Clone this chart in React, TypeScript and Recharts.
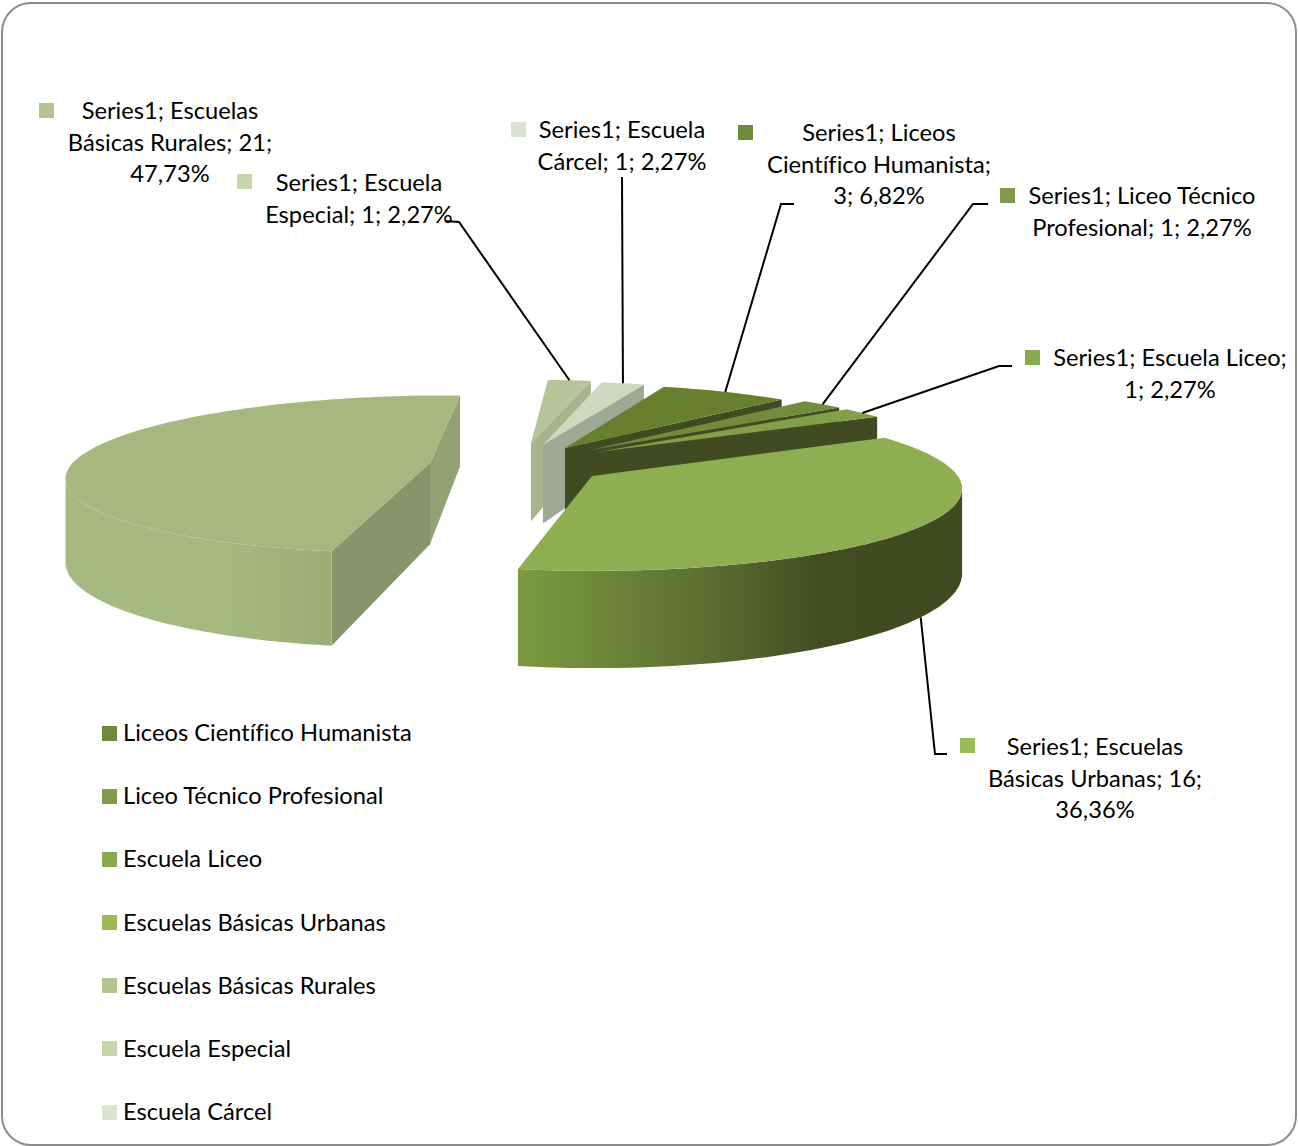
import React from 'react';
import { PieChart, Pie, Cell, Legend } from 'recharts';

// pie order runs back to front so nearer slices paint over farther ones
const CATEGORIES = [
  'Escuela Especial',
  'Escuela Cárcel',
  'Liceos Científico Humanista',
  'Liceo Técnico Profesional',
  'Escuela Liceo',
  'Escuelas Básicas Urbanas',
  'Escuelas Básicas Rurales',
];
const VALUES = [1, 1, 3, 1, 1, 16, 21];
const LEGEND_ORDER = [
  'Liceos Científico Humanista',
  'Liceo Técnico Profesional',
  'Escuela Liceo',
  'Escuelas Básicas Urbanas',
  'Escuelas Básicas Rurales',
  'Escuela Especial',
  'Escuela Cárcel',
];
const KEY_COLORS = ['#c6d6ab', '#dbe5cd', '#6f8a3d', '#7f9b4b', '#8aaa50', '#9bbb59', '#b1c78f'];
const TOP_COLORS = ['#b5c499', '#ced9bf', '#66802f', '#718c3b', '#82a04a', '#8fae52', '#a4b880'];
const WALL_COLORS = ['#a3ae8c', '#9ea894', '#414b21', '#414b21', '#414b21', '#414b21', '#87966a'];
const END_WALL_COLORS = ['#a7b48d', '#9ea894', '#414b21', '#414b21', '#414b21', '#414b21', '#92a373'];

const LABEL_LINES = [
  ['Series1; Escuela', 'Especial; 1; 2,27%'],
  ['Series1; Escuela', 'Cárcel; 1; 2,27%'],
  ['Series1; Liceos', 'Científico Humanista;', '3; 6,82%'],
  ['Series1; Liceo Técnico', 'Profesional; 1; 2,27%'],
  ['Series1; Escuela Liceo;', '1; 2,27%'],
  ['Series1; Escuelas', 'Básicas Urbanas; 16;', '36,36%'],
  ['Series1; Escuelas', 'Básicas Rurales; 21;', '47,73%'],
];

// label layout: text centre, first line y, key corner, leader elbow points
const LABEL_BOX = [
  { x: 359, y: 182, keyX: 237, keyY: 174, leader: [[445, 221], [459, 222]] },
  { x: 622, y: 129, keyX: 511, keyY: 122, leader: [[622, 177]] },
  { x: 879, y: 132, keyX: 738, keyY: 125, leader: [[794, 204], [781, 204]] },
  { x: 1142, y: 195, keyX: 1000, keyY: 188, leader: [[988, 204], [973, 204]] },
  { x: 1170, y: 357, keyX: 1025, keyY: 350, leader: [[1012, 366], [999, 366]] },
  { x: 1095, y: 746, keyX: 960, keyY: 738, leader: [[947, 754], [935, 754]] },
  { x: 170, y: 110, keyX: 39, keyY: 103, leader: [] as number[][] },
];

// exploded slice tips on screen
const TIPS = [
  [531, 443],
  [543, 445],
  [565, 448],
  [590, 450],
  [597, 452],
  [592, 476],
  [430, 463],
];

const WIDTH = 1298;
const HEIGHT = 1146;
const CX = 575;
const CY = 455;
const RX = 352;
const RY = 75;
const PERSPECTIVE = 0.14;
const DEPTH = 80;
const FONT = 'Lato, sans-serif';
const FONT_SIZE = 23.7;
const START_ANGLE = 87.8;

const RIM_STOPS: Record<number, [number, string][]> = {
  5: [[0, '#7c9a40'], [0.41, '#5c7032'], [0.69, '#414c21'], [1, '#3f4a1f']],
  6: [[0, '#a5ba80'], [0.4, '#a5ba80'], [1, '#8e9e6c']],
};

const project = (x: number, y: number, z = 0) => {
  const f = 1 / (1 - PERSPECTIVE * y);
  return [CX + RX * x * f, CY + RY * y * f + DEPTH * z * f];
};

// turn the screen position of a tip back to disc coordinates
const tipOffset = (i: number) => {
  const t = (TIPS[i][1] - CY) / RY;
  const y = t / (1 + PERSPECTIVE * t);
  const f = 1 / (1 - PERSPECTIVE * y);
  return [(TIPS[i][0] - CX) / (RX * f), y];
};

const rimPoint = (i: number, angle: number, z = 0) => {
  const [ox, oy] = tipOffset(i);
  const rad = (angle * Math.PI) / 180;
  return project(ox + Math.cos(rad), oy - Math.sin(rad), z);
};

const toPath = (pts: number[][]) =>
  pts.map((p, i) => `${i ? 'L' : 'M'}${p[0].toFixed(1)} ${p[1].toFixed(1)}`).join(' ') + ' Z';

const Slice3D = (props: any) => {
  const { startAngle, endAngle, name } = props;
  const i = CATEGORIES.indexOf(name ?? props.payload?.name);
  const [ox, oy] = tipOffset(i);
  const tip = project(ox, oy);
  const tipLow = project(ox, oy, 1);
  const steps = Math.max(2, Math.ceil(Math.abs(startAngle - endAngle) / 1.5));
  const angles = Array.from({ length: steps + 1 }, (_, k) => startAngle + ((endAngle - startAngle) * k) / steps);
  const arcTop = angles.map((a) => rimPoint(i, a));
  const arcLow = angles.map((a) => rimPoint(i, a, 1));

  // only edges running right to left on screen face the viewer
  const rimRuns: number[][][] = [];
  let run: number[][] | null = null;
  for (let k = 0; k < steps; k++) {
    if (arcTop[k + 1][0] < arcTop[k][0]) {
      if (!run) {
        run = [arcTop[k]];
        rimRuns.push(run);
      }
      run.push(arcTop[k + 1]);
    } else run = null;
  }
  const rimPaths = rimRuns.map((r) => {
    const low = r.map((p) => arcLow[arcTop.indexOf(p)]);
    return toPath([...r, ...low.reverse()]);
  });

  const startRim = arcTop[0];
  const endRim = arcTop[steps];
  const stops = RIM_STOPS[i];
  const gradId = `rim-${i}`;
  const xs = arcTop.map((p) => p[0]);

  return (
    <g>
      {stops && (
        <defs>
          <linearGradient id={gradId} gradientUnits="userSpaceOnUse" x1={Math.min(...xs)} x2={Math.max(...xs)} y1={0} y2={0}>
            {stops.map(([o, c]) => (
              <stop key={o} offset={o} stopColor={c} />
            ))}
          </linearGradient>
        </defs>
      )}
      {startRim[0] < tip[0] && <path d={toPath([tip, startRim, arcLow[0], tipLow])} fill={WALL_COLORS[i]} />}
      {tip[0] < endRim[0] && <path d={toPath([endRim, tip, tipLow, arcLow[steps]])} fill={END_WALL_COLORS[i]} />}
      {rimPaths.map((d, k) => (
        <path key={k} d={d} fill={stops ? `url(#${gradId})` : WALL_COLORS[i]} />
      ))}
      <path d={toPath([tip, ...arcTop])} fill={TOP_COLORS[i]} />
    </g>
  );
};

const SliceLabel = (props: any) => {
  const { index, midAngle } = props;
  const box = LABEL_BOX[index];
  const lines = LABEL_LINES[index];
  const name = CATEGORIES[index];
  // urbanas leader lands on the bottom edge of the rim, the rest on the top edge
  const end = rimPoint(index, midAngle, name === 'Escuelas Básicas Urbanas' ? 1 : 0);
  const pts = box.leader.length ? [...box.leader, end] : [];
  return (
    <g>
      {pts.length > 0 && (
        <polyline points={pts.map((p) => p.join(',')).join(' ')} fill="none" stroke="#000" strokeWidth={2} />
      )}
      <rect x={box.keyX} y={box.keyY} width={15} height={15} fill={KEY_COLORS[index]} />
      {lines.map((line, k) => (
        <text
          key={k}
          x={box.x}
          y={box.y + k * 31.7}
          textAnchor="middle"
          dominantBaseline="central"
          fontFamily={FONT}
          fontSize={FONT_SIZE}
          fill="#000"
          style={{ fontVariantLigatures: 'none' }}
        >
          {line}
        </text>
      ))}
    </g>
  );
};

const LegendList = ({ payload }: any) => {
  const items = [...(payload ?? [])].sort(
    (a: any, b: any) => LEGEND_ORDER.indexOf(a.value) - LEGEND_ORDER.indexOf(b.value),
  );
  return (
    <div style={{ position: 'relative', width: 400, height: 420 }}>
      {items.map((it: any, k: number) => (
        <div
          key={it.value}
          style={{ position: 'absolute', left: 0, top: k * 63.17 - 1, height: 30, display: 'flex', alignItems: 'center', whiteSpace: 'nowrap' }}
        >
          <span style={{ width: 15, height: 15, background: it.color, marginRight: 6, display: 'inline-block', marginTop: 2 }} />
          <span style={{ fontFamily: FONT, fontSize: FONT_SIZE, color: '#000', fontVariantLigatures: 'none' }}>{it.value}</span>
        </div>
      ))}
    </div>
  );
};

const chartData = CATEGORIES.map((name, i) => ({ name, value: VALUES[i] }));

export default function App() {
  return (
    <div style={{ position: 'absolute', left: 0, top: 0, width: WIDTH, height: HEIGHT, overflow: 'hidden', background: '#fff' }}>
      <div
        style={{
          position: 'absolute',
          left: 1,
          top: 2,
          width: 1292,
          height: 1140,
          border: '2px solid #8c8c8c',
          borderRadius: 30,
        }}
      />
      <div style={{ position: 'absolute', left: 0, top: 0 }}>
        <PieChart width={WIDTH} height={HEIGHT} margin={{ top: 0, right: 0, bottom: 0, left: 0 }}>
          <Pie
            data={chartData}
            dataKey="value"
            nameKey="name"
            cx={CX}
            cy={CY}
            outerRadius={RX}
            startAngle={START_ANGLE}
            endAngle={START_ANGLE - 360}
            stroke="none"
            shape={Slice3D}
            label={SliceLabel}
            labelLine={false}
            isAnimationActive={false}
          >
            {chartData.map((d, i) => (
              <Cell key={d.name} fill={KEY_COLORS[i]} />
            ))}
          </Pie>
          <Legend
            layout="vertical"
            align="left"
            verticalAlign="top"
            wrapperStyle={{ left: 102, top: 718, width: 400 }}
            content={LegendList}
          />
        </PieChart>
      </div>
    </div>
  );
}
